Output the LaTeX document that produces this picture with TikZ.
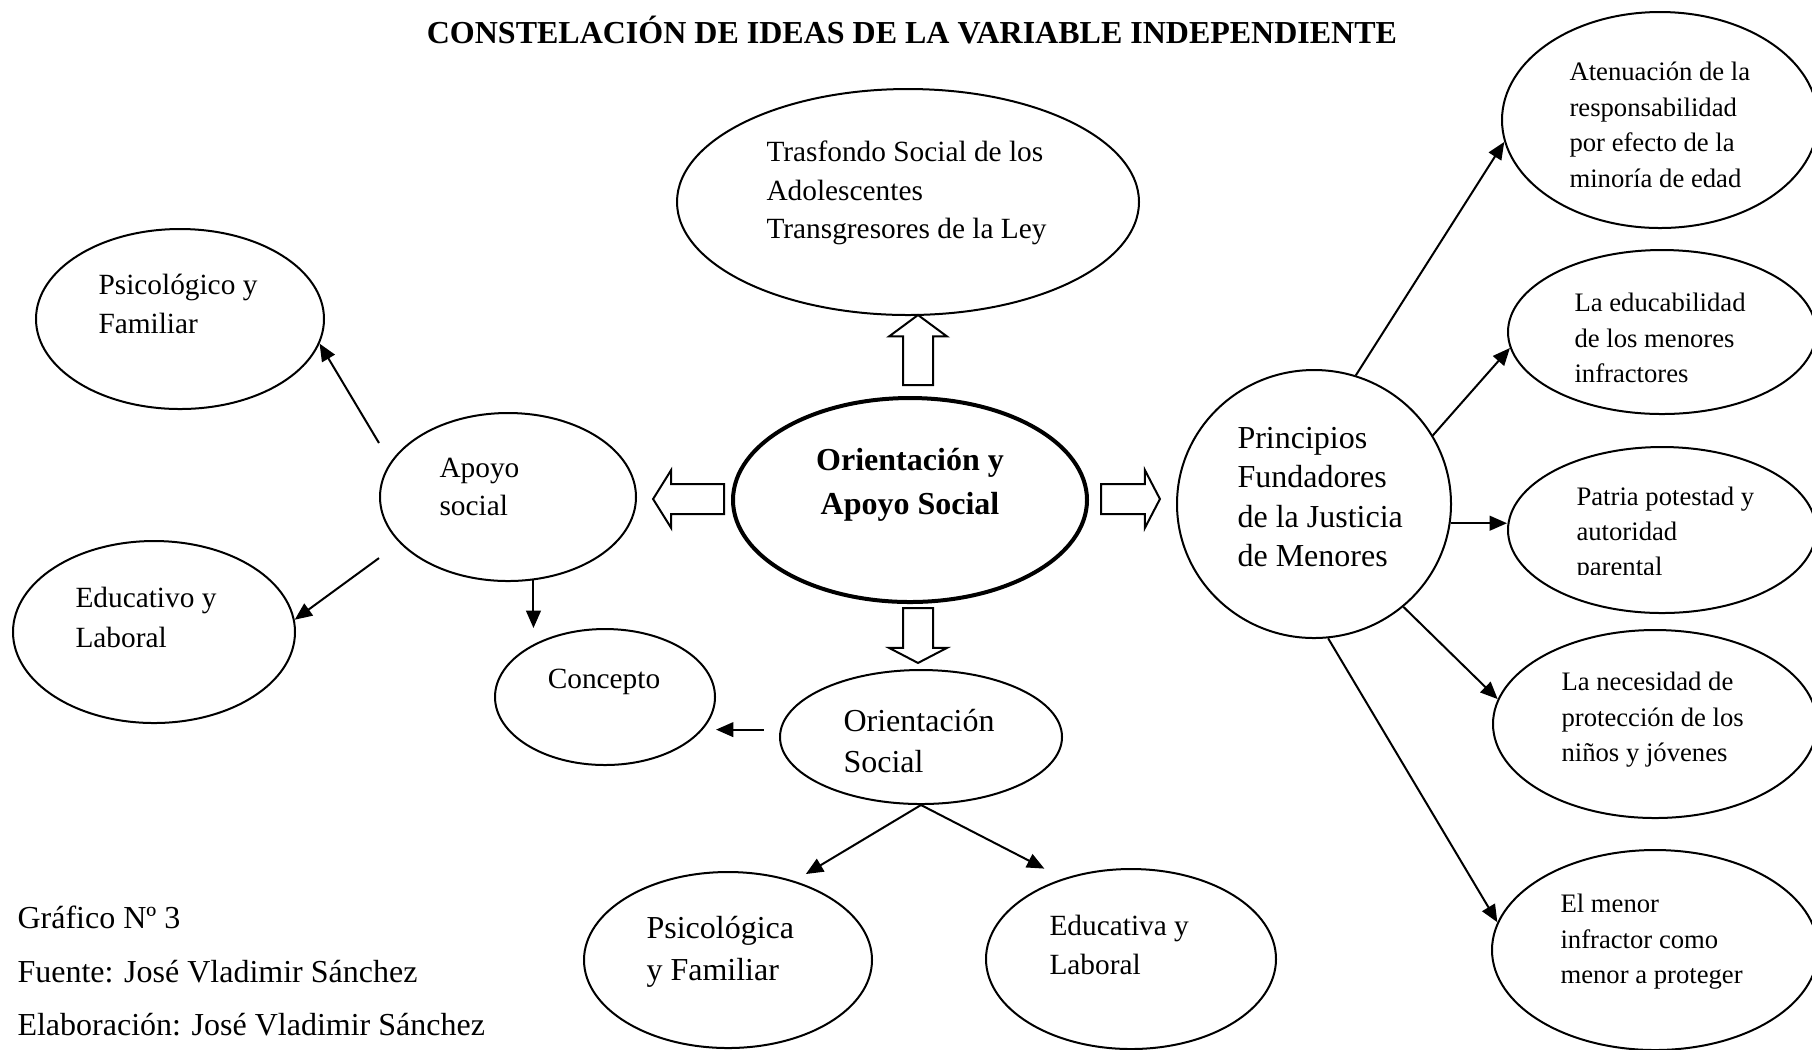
\documentclass[tikz,border=0pt]{standalone}
\usepackage{fontspec}
\setmainfont{Liberation Serif}
\usetikzlibrary{shapes.geometric,shapes.arrows,arrows.meta}

\tikzset{
  idea/.style 2 args={ellipse, draw, line width=0.75pt, inner sep=0pt,
    minimum width=0.375pt*#1, minimum height=0.375pt*#2},
  txt/.style={anchor=west, align=left, inner sep=0pt,
    font=\fontsize{11}{14.6}\selectfont},
  txtbig/.style={txt, font=\fontsize{12}{14.8}\selectfont},
  txtsmall/.style={txt, font=\fontsize{10}{13.3}\selectfont},
  arr/.style={-{Triangle[length=6.5pt,width=5.5pt]}, line width=0.75pt},
  bigarr/.style={single arrow, draw, line width=0.75pt, inner sep=5.25pt,
    single arrow head extend=5.25pt, minimum width=21pt}
}

\begin{document}
\begin{tikzpicture}[x=0.375pt, y=-0.375pt]
  \useasboundingbox (0,0) rectangle (1812,1049);

  \node[font=\fontsize{12}{14}\selectfont\bfseries, anchor=base] (title) at (912,43)
    {CONSTELACIÓN DE IDEAS DE LA VARIABLE INDEPENDIENTE};

  \node[idea={462}{226}] (trasfondo) at (908,202) {};
  \node[idea={288}{180}] (psicoA) at (180,319) {};
  \node[idea={256}{168}] (apoyo) at (508,497) {};
  \node[idea={282}{182}] (educA) at (154,632) {};
  \node[idea={220}{136}] (concepto) at (605,697) {};
  \node[idea={354}{204}, line width=1.5pt] (central) at (910,500) {};
  \node[idea={282}{134}] (orsocial) at (921,737) {};
  \node[idea={288}{176}] (psicoB) at (728,960) {};
  \node[idea={290}{180}] (educB) at (1131,959) {};
  \node[idea={274}{268}] (principios) at (1314,504) {};
  \node[idea={316}{216}] (atenuacion) at (1660,120) {};
  \node[idea={308}{164}] (educabilidad) at (1662,332) {};
  \node[idea={308}{166}] (patria) at (1662,530) {};
  \node[idea={324}{188}] (necesidad) at (1655,724) {};
  \node[idea={326}{200}] (menor) at (1655,950) {};

  \node[txt, font=\fontsize{11}{14.5}\selectfont] (trasfondo-t) at (766,193)
    {Trasfondo Social de los\\Adolescentes\\Transgresores de la Ley};
  \node[txt, font=\fontsize{11}{14.8}\selectfont] (psicoA-t) at (98,304) {Psicológico y\\Familiar};
  \node[txt, font=\fontsize{11}{14.25}\selectfont] (apoyo-t) at (439,487) {Apoyo\\social};
  \node[txt, font=\fontsize{11}{15}\selectfont] (educA-t) at (75,617) {Educativo y\\Laboral};
  \node[txt, anchor=center] (concepto-t) at (604,682) {Concepto};
  \node[align=center, inner sep=0pt, font=\fontsize{12}{16.5}\selectfont\bfseries] (central-t)
    at (910,485) {Orientación y\\Apoyo Social};
  \node[txtbig, font=\fontsize{12}{15.3}\selectfont] (orsocial-t) at (843,741) {Orientación\\Social};
  \node[txtbig, font=\fontsize{12}{15.9}\selectfont] (psicoB-t) at (646,952) {Psicológica\\y Familiar};
  \node[txt, font=\fontsize{11}{14.3}\selectfont] (educB-t) at (1049,945) {Educativa y\\Laboral};
  \node[txtbig] (principios-t) at (1237,497)
    {Principios\\Fundadores\\de la Justicia\\de Menores};
  \node[txtsmall] (atenuacion-t) at (1569,125)
    {Atenuación de la\\responsabilidad\\por efecto de la\\minoría de edad};
  \node[txtsmall] (educabilidad-t) at (1574,338) {La educabilidad\\de los menores\\infractores};
  \begin{scope}
    \clip (1500,440) rectangle (1812,574);
    \node[txtsmall, font=\fontsize{10}{13}\selectfont] (patria-t) at (1576,534)
      {Patria potestad y\\autoridad\\parental};
  \end{scope}
  \node[txtsmall] (necesidad-t) at (1561,720)
    {La necesidad de\\protección de los\\niños y jóvenes};
  \node[txtsmall] (menor-t) at (1560,942) {El menor\\infractor como\\menor a proteger};

  \node[bigarr, rotate=90, minimum height=26.25pt, single arrow tip angle=107,
    anchor=tail] (up) at (918,386) {};
  \node[bigarr, rotate=180, minimum height=26.6pt, single arrow tip angle=116,
    anchor=tail] (left) at (725,499) {};
  \node[bigarr, minimum height=22.1pt, single arrow tip angle=125,
    anchor=tail] (right) at (1100,499) {};
  \node[bigarr, rotate=-90, minimum height=20.6pt, single arrow tip angle=125,
    anchor=tail] (down) at (918,607) {};

  \draw[arr] ([yshift=20.25pt]apoyo.west) -- (psicoA.-10);
  \draw[arr] ([yshift=-22.9pt]apoyo.west) -- (educA.5);
  \draw[arr] (apoyo.-73) -- (apoyo.-73 |- concepto.north);
  \draw[arr, shorten <=6pt] (orsocial.177) -- (concepto.east |- orsocial.177);
  \draw[arr, shorten >=5pt] (orsocial.south) -- (psicoB.50);
  \draw[arr, shorten >=8pt] (orsocial.south) -- (educB.130);
  \draw[arr] (principios.72) -- (atenuacion.188);
  \draw[arr] (principios.30) -- (educabilidad.186);
  \draw[arr] (principios.-8) -- (patria.west |- principios.-8);
  \draw[arr] (principios.-49) -- (necesidad.171);
  \draw[arr] (principios.-84) -- (menor.170);

  \node[txtbig] (grafico) at (17,917) {Gráfico Nº 3};
  \node[txtbig] (fuente) at (17,972) {Fuente: José Vladimir Sánchez};
  \node[txtbig] (elab) at (17,1025) {Elaboración: José Vladimir Sánchez};
\end{tikzpicture}
\end{document}
